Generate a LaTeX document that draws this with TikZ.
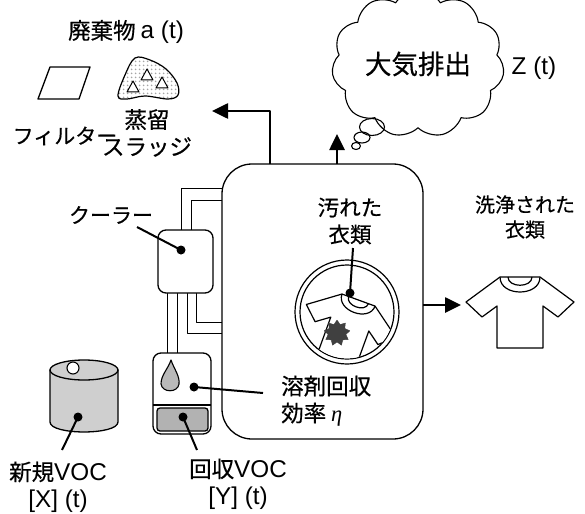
\documentclass[tikz,border=0pt]{standalone}
\usepackage{fontspec}
\setmainfont{Noto Sans CJK JP}[FakeBold=0.5]
\newfontfamily\latinfont{Liberation Sans}[Scale=1.08]
\newfontfamily\greekfont{Liberation Serif}
\usetikzlibrary{arrows.meta,shapes.symbols,shapes.geometric,patterns.meta}

\newcommand\lt[1]{{\latinfont #1}}

\tikzset{
  shirt/.pic={
    \draw[line width=1.2pt, fill=white] (-20,-35) -- (-54,-10) -- (-38,5) -- (-23,-6) -- (-23,36)
      -- (23,36) -- (23,-6) -- (38,5) -- (54,-10) -- (20,-35) -- cycle;
    \draw[line width=1.2pt] (-20,-35) .. controls (-20,-15) and (20,-15) .. (20,-35);
    \draw[line width=1.2pt] (-12,-35) .. controls (-12,-24) and (12,-24) .. (12,-35);
  },
  pebble/.pic={
    \draw[line width=1pt, fill=white] (-6,5) -- (6,5) -- (0,-6) -- cycle;
  }
}

\begin{document}
\begin{tikzpicture}[x=1pt, y=-1pt, line join=round,
  pipe/.style={line width=1pt},
  outline/.style={line width=1.3pt},
  bold arrow/.style={line width=2.6pt, -{Triangle[length=16pt,width=15pt]}},
  leader/.style={line width=2pt},
  dotmark/.style={circle, fill=black, inner sep=0pt, minimum size=9pt},
  lbl/.style={font=\fontsize{22.5}{27}\selectfont, align=center, inner sep=0pt},
]
\useasboundingbox (0,0) rectangle (585,513);

% ---------- waste: filter and distillation sludge ----------
\node[lbl] (wastelbl) at (126,32) {廃棄物 \lt{a (t)}};
\draw[outline] (38,99) -- (79,99) -- (90,67) -- (50,67) -- cycle;
\filldraw[line width=1.2pt, pattern={Dots[distance=4pt,radius=1.1pt]}, pattern color=gray!70]
  plot[smooth cycle, tension=0.6] coordinates {(118,96) (125,75) (135,58) (150,60) (166,69) (177,83) (178,95) (168,99) (145,96) (127,99)};
\pic at (133,87) {pebble};
\pic at (147,75) {pebble};
\pic at (162,83) {pebble};
\node[lbl, font=\fontsize{21}{27}\selectfont] (filterlbl) at (65,136) {フィルター};
\node[lbl] (sludgelbl) at (147,133) {蒸留\\スラッジ};

% ---------- emission cloud ----------
\node[cloud, draw, line width=1.1pt, cloud puffs=11, cloud puff arc=115, aspect=1.25,
      minimum width=150pt, minimum height=120pt, font=\fontsize{26.5}{30}\selectfont] (cloud) at (418,64) {大気排出};
\draw[line width=1.1pt] (372,127) ellipse [x radius=12.5, y radius=8.5];
\draw[line width=1.1pt] (362,137.5) ellipse [x radius=8, y radius=5.5];
\draw[line width=1.1pt] (356,146) ellipse [x radius=4.5, y radius=3.5];
\node[lbl] (zlbl) at (534,68) {\lt{Z (t)}};

% ---------- piping between cooler, recovery unit and machine ----------
\draw[pipe] (181,232) -- (181,188) -- (226,188);
\draw[pipe] (191,232) -- (191,200) -- (226,200);
\draw[pipe] (167,291) -- (167,355);
\draw[pipe] (177,291) -- (177,355);
\draw[pipe] (187,291) -- (187,333) -- (226,333);
\draw[pipe] (196,291) -- (196,322) -- (226,322);

% ---------- cleaning machine ----------
\node[draw, outline, fill=white, rounded corners=30pt, minimum width=201pt, minimum height=275pt, inner sep=0pt] (machine) at (322.5,301.5) {};

% drum with the soiled garment
\draw[line width=1.2pt] (347,312) circle [radius=52];
\draw[line width=1.2pt] (347,312) circle [radius=47];
\begin{scope}
  \clip (347,312) circle [radius=46.4];
  \pic[rotate=-20, scale=0.88] at (348,329) {shirt};
\end{scope}
\node[star, star points=9, star point ratio=1.45, fill=black!75, draw=black!75, minimum size=26pt, inner sep=0pt] (stain) at (337,333) {};

\node[lbl, font=\fontsize{21.5}{27}\selectfont] (dirtylbl) at (350,221) {汚れた\\衣類};
\node[dotmark] (dirtydot) at (350,293) {};
\coordinate (dirtyend) at (353,248);
\draw[leader] (dirtyend) -- (dirtydot.center);

\node[lbl, align=left, anchor=west] (efflbl) at (281,401) {溶剤回収\\効率 {\greekfont\itshape η}};

% ---------- cooler ----------
\node[draw, outline, fill=white, rounded corners=8pt, minimum width=55pt, minimum height=63pt, inner sep=0pt] (cooler) at (185.5,261.5) {};
\node[lbl, font=\fontsize{21}{27}\selectfont] (coolerlbl) at (111,215) {クーラー};
\node[dotmark] (cooldot) at (181,250) {};
\coordinate (coolend) at (137,227);
\draw[leader] (coolend) -- (cooldot.center);

% ---------- solvent recovery unit ----------
\node[draw, outline, fill=white, rounded corners=8pt, minimum width=58pt, minimum height=81pt, inner sep=0pt] (recovery) at (182,393.5) {};
\draw[outline] (153,405) -- (211,405);
\node[draw, outline, fill=gray!60, rounded corners=3pt, minimum width=51pt, minimum height=23pt, inner sep=0pt] (recvoc) at (182.5,419.5) {};
\filldraw[line width=1.1pt, fill=gray!55] (171,360) .. controls (174,369) and (180,376) .. (179,384)
  .. controls (178,393) and (162,393) .. (161,384) .. controls (161,375) and (168,369) .. (171,360) -- cycle;
\node[dotmark] (effdot) at (194,387) {};
\coordinate (effend) at (263,393);
\draw[leader] (effdot.center) -- (effend);
\node[dotmark] (recdot) at (183,417) {};
\coordinate (recend) at (197,450);
\draw[leader] (recdot.center) -- (recend);
\node[lbl] (reclbl) at (238,484) {回収\lt{VOC}\\\lt{[Y] (t)}};

% ---------- new solvent drum ----------
\filldraw[outline, fill=gray!38] (50,370) -- (50,422) .. controls (50,435.3) and (118,435.3) .. (118,422) -- (118,370) -- cycle;
\filldraw[outline, fill=gray!38] (84,370) ellipse [x radius=34, y radius=10];
\filldraw[line width=1.1pt, fill=white] (73,368) circle [radius=6];
\node[dotmark] (newdot) at (78,417) {};
\coordinate (newend) at (62,450);
\draw[leader] (newdot.center) -- (newend);
\node[lbl] (newlbl) at (58,487) {新規\lt{VOC}\\\lt{[X] (t)}};

% ---------- outputs from the machine ----------
\coordinate (wastebase) at (270,164);
\coordinate (wastetip) at (212,111);
\draw[bold arrow] (wastebase) |- (wastetip);
\coordinate (ventbase) at (337,164);
\coordinate (venttip) at (337,134);
\draw[bold arrow] (ventbase) -- (venttip);
\coordinate (cleanbase) at (423,305);
\coordinate (cleantip) at (461,305);
\draw[bold arrow] (cleanbase) -- (cleantip);

% clean garment
\pic at (520,312) {shirt};
\node[lbl, font=\fontsize{20}{25}\selectfont] (cleanlbl) at (525,217) {洗浄された\\衣類};
\end{tikzpicture}
\end{document}
